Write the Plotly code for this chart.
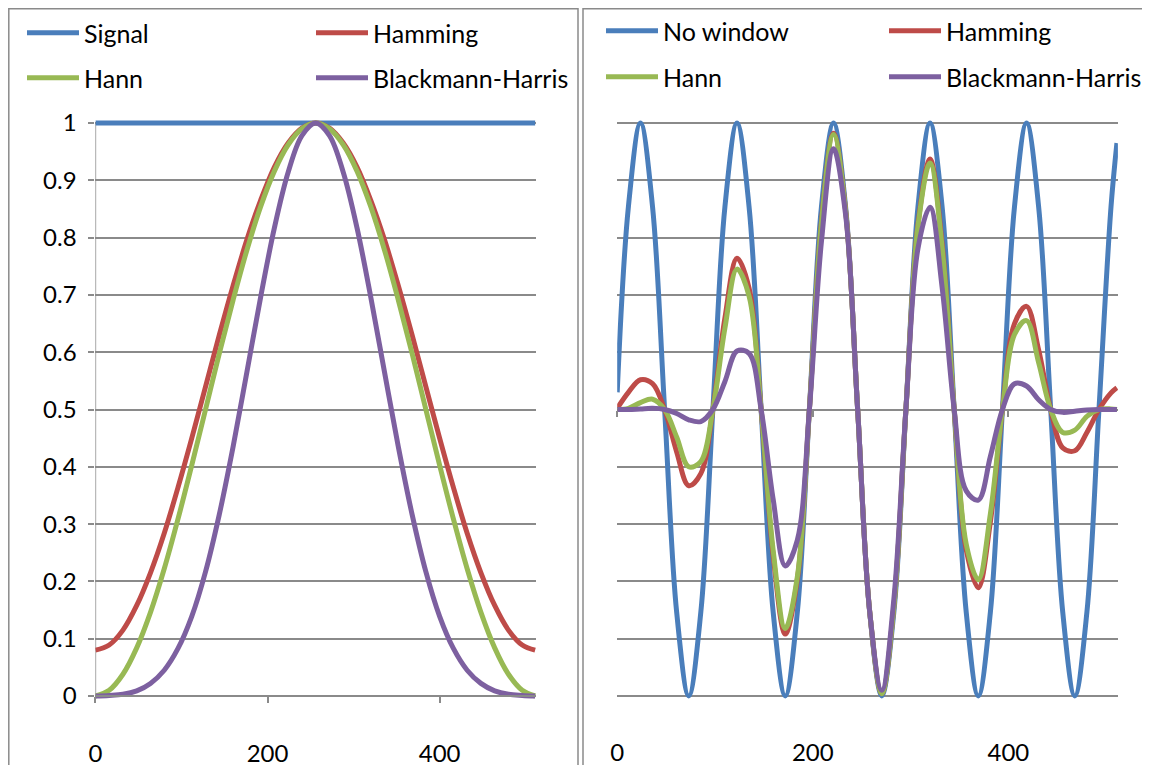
import plotly.graph_objects as go

# ---------------- data ----------------
# Left panel: window functions over sample index 0..511
x_win = [0, 16, 32, 48, 64, 80, 96, 112, 128, 144, 160, 176, 192, 208, 224, 240,
         256, 272, 288, 304, 320, 336, 352, 368, 384, 400, 416, 432, 448, 464, 480, 496, 511]
signal_win = [1, 1, 1, 1, 1, 1, 1, 1, 1, 1, 1, 1, 1, 1, 1, 1,
              1, 1, 1, 1, 1, 1, 1, 1, 1, 1, 1, 1, 1, 1, 1, 1, 1]
hamming_win = [0.080, 0.089, 0.115, 0.158, 0.215, 0.284, 0.364, 0.450, 0.540, 0.630, 0.716,
               0.796, 0.865, 0.923, 0.965, 0.991, 1.000, 0.991, 0.965, 0.923, 0.865, 0.796,
               0.716, 0.630, 0.540, 0.450, 0.364, 0.284, 0.215, 0.158, 0.115, 0.089, 0.080]
hann_win = [0.000, 0.010, 0.038, 0.084, 0.146, 0.222, 0.309, 0.403, 0.500, 0.598, 0.691,
            0.778, 0.854, 0.916, 0.962, 0.990, 1.000, 0.990, 0.962, 0.916, 0.854, 0.778,
            0.691, 0.598, 0.500, 0.403, 0.309, 0.222, 0.146, 0.084, 0.038, 0.010, 0.000]
bh_win = [0.000, 0.001, 0.003, 0.009, 0.022, 0.045, 0.083, 0.139, 0.217, 0.317, 0.435,
          0.565, 0.696, 0.817, 0.914, 0.978, 1.000, 0.978, 0.914, 0.817, 0.696, 0.565,
          0.435, 0.317, 0.217, 0.139, 0.083, 0.045, 0.022, 0.009, 0.003, 0.001, 0.000]

# Right panel: sine signal, raw and windowed
x_sig = [0, 11.46, 23.8, 36.14, 48.48, 60.81, 73.15, 85.49, 97.83, 110.16, 122.5, 134.84,
         147.18, 159.51, 171.85, 184.19, 196.53, 208.86, 221.2, 233.54, 245.88, 258.21,
         270.55, 282.89, 295.23, 307.56, 319.9, 332.24, 344.58, 356.91, 369.25, 381.59,
         393.93, 406.26, 418.6, 430.94, 443.28, 455.61, 467.95, 480.29, 492.63, 504.96, 511]
no_window = [0.530,
             0.854, 1.000, 0.854, 0.500, 0.146, 0.000, 0.146, 0.500,
             0.854, 1.000, 0.854, 0.500, 0.146, 0.000, 0.146, 0.500,
             0.854, 1.000, 0.854, 0.500, 0.146, 0.000, 0.146, 0.500,
             0.854, 1.000, 0.854, 0.500, 0.146, 0.000, 0.146, 0.500,
             0.854, 1.000, 0.854, 0.500, 0.146, 0.000, 0.146, 0.500,
             0.854, 0.965]
hamming_sig = [0.502,
               0.530, 0.552, 0.545, 0.500, 0.426, 0.367, 0.388, 0.500,
               0.660, 0.764, 0.712, 0.500, 0.245, 0.108, 0.203, 0.500,
               0.828, 0.982, 0.848, 0.500, 0.147, 0.004, 0.156, 0.500,
               0.823, 0.937, 0.790, 0.500, 0.255, 0.189, 0.304, 0.500,
               0.650, 0.680, 0.604, 0.500, 0.433, 0.428, 0.460, 0.500,
               0.529, 0.538]
hann_sig = [0.500,
            0.502, 0.512, 0.518, 0.500, 0.452, 0.400, 0.409, 0.500,
            0.642, 0.745, 0.698, 0.500, 0.254, 0.118, 0.208, 0.500,
            0.825, 0.980, 0.847, 0.500, 0.147, 0.004, 0.156, 0.500,
            0.820, 0.930, 0.783, 0.500, 0.265, 0.203, 0.318, 0.500,
            0.631, 0.655, 0.582, 0.500, 0.460, 0.464, 0.488, 0.500,
            0.501, 0.500]
bh_sig = [0.500,
          0.500, 0.501, 0.502, 0.500, 0.493, 0.482, 0.479, 0.500,
          0.549, 0.602, 0.598, 0.500, 0.343, 0.227, 0.272, 0.500,
          0.793, 0.955, 0.840, 0.500, 0.147, 0.010, 0.169, 0.500,
          0.781, 0.853, 0.713, 0.500, 0.358, 0.342, 0.418, 0.500,
          0.545, 0.541, 0.517, 0.500, 0.495, 0.497, 0.499, 0.500,
          0.500, 0.500]

x_ticks = [0, 200, 400]
y_ticks = [0, 0.1, 0.2, 0.3, 0.4, 0.5, 0.6, 0.7, 0.8, 0.9, 1]
y_tick_text = ["0", "0.1", "0.2", "0.3", "0.4", "0.5", "0.6", "0.7", "0.8", "0.9", "1"]

# ---------------- style ----------------
W, H = 1150, 765
OFF = 8  # page body margin: figure origin sits 8px into the screenshot
BLUE, RED, GREEN, PURPLE = "#4A7EBB", "#BE4B48", "#98B954", "#7D60A0"
GRID = "#8A8A8A"
FONT = "Lato"
LW = 5


def px_x(p):
    """screen pixel column -> paper fraction"""
    return (p - OFF) / W


def px_y(p):
    """screen pixel row -> paper fraction"""
    return 1 - (p - OFF) / H


Y0_PX, Y1_PX = 696.0, 123.0          # screen rows of y=0 and y=1
pad = 0.012
unit = Y0_PX - Y1_PX
y_dom = [px_y(Y0_PX + pad * unit), px_y(Y1_PX - pad * unit)]
y_zero_paper = px_y(Y0_PX)
y_half_paper = px_y((Y0_PX + Y1_PX) / 2)

fig = go.Figure()

left = [("Signal", signal_win, BLUE, "legend"), ("Hamming", hamming_win, RED, "legend"),
        ("Hann", hann_win, GREEN, "legend2"), ("Blackmann-Harris", bh_win, PURPLE, "legend2")]
for name, ys, col, lg in left:
    fig.add_trace(go.Scatter(x=x_win, y=ys, name=name, mode="lines",
                             line=dict(color=col, width=LW, shape="spline"),
                             xaxis="x", yaxis="y", legend=lg, hoverinfo="skip"))

right = [("No window", no_window, BLUE, "legend3"), ("Hamming", hamming_sig, RED, "legend3"),
         ("Hann", hann_sig, GREEN, "legend4"), ("Blackmann-Harris", bh_sig, PURPLE, "legend4")]
for name, ys, col, lg in right:
    fig.add_trace(go.Scatter(x=x_sig, y=ys, name=name, mode="lines",
                             line=dict(color=col, width=LW, shape="spline"),
                             xaxis="x2", yaxis="y2", legend=lg, hoverinfo="skip"))

# empty trace so that the mid-height tick axis of the right panel is drawn
fig.add_trace(go.Scatter(x=[], y=[], xaxis="x3", yaxis="y2", showlegend=False, hoverinfo="skip"))

tickfont = dict(family=FONT, size=24, color="black")
common_x = dict(range=[0, 512], tickvals=x_ticks, ticktext=[str(v) for v in x_ticks],
                showgrid=False, zeroline=False, tickfont=tickfont)
common_y = dict(range=[-pad, 1 + pad], domain=y_dom, tickvals=y_ticks, showgrid=True,
                gridcolor=GRID, gridwidth=1.5, zeroline=False, showline=False)

fig.update_layout(
    width=W, height=H,
    margin=dict(l=0, r=0, t=0, b=0, autoexpand=False),
    paper_bgcolor="white", plot_bgcolor="white",
    font=dict(family=FONT, size=24, color="black"),
    xaxis=dict(**common_x, domain=[px_x(95.4), px_x(536.0)], anchor="free",
               position=y_zero_paper, showline=True, linecolor=GRID, linewidth=1.5,
               ticks="outside", ticklen=6, tickwidth=1.5, tickcolor=GRID,
               ticklabelstandoff=30),
    yaxis=dict(**common_y, anchor="x", ticktext=y_tick_text, ticks="outside", ticklen=6,
               tickwidth=1.5, tickcolor=GRID, tickfont=tickfont, ticklabelstandoff=7),
    xaxis2=dict(**common_x, domain=[px_x(617.2), px_x(1117.9)], anchor="free",
                position=y_zero_paper, showline=False, ticks="", ticklabelstandoff=40),
    xaxis3=dict(range=[0, 512], overlaying="x2", anchor="free", position=y_half_paper,
                tickvals=x_ticks, showticklabels=False, showgrid=False, zeroline=False,
                showline=False, ticks="outside", ticklen=6, tickwidth=1.5, tickcolor=GRID),
    yaxis2=dict(**common_y, anchor="x2", showticklabels=False, ticks=""),
    showlegend=True,
)

leg = dict(orientation="h", xanchor="left", yanchor="middle", bgcolor="rgba(0,0,0,0)",
           font=dict(family=FONT, size=25, color="black"), entrywidthmode="pixels",
           itemwidth=52, tracegroupgap=0)
fig.update_layout(
    legend=dict(**leg, entrywidth=222, x=px_x(22), y=px_y(33)),
    legend2=dict(**leg, entrywidth=222, x=px_x(22), y=px_y(78)),
    legend3=dict(**leg, entrywidth=216, x=px_x(601), y=px_y(31)),
    legend4=dict(**leg, entrywidth=216, x=px_x(601), y=px_y(77)),
)

# vertical axis line of the left chart (from 0 to 1 only)
fig.add_shape(type="line", xref="x", yref="y", x0=0, x1=0, y0=0, y1=1,
              line=dict(color=GRID, width=1.5), layer="below")

# chart-area frames of the two Excel charts
for x0, x1 in [(px_x(8.8), px_x(578)), (px_x(583), 1.01)]:
    fig.add_shape(type="rect", xref="paper", yref="paper", x0=x0, x1=x1,
                  y0=-0.02, y1=px_y(8.8), line=dict(color=GRID, width=1.5), layer="below")

fig.write_html("out.html")
